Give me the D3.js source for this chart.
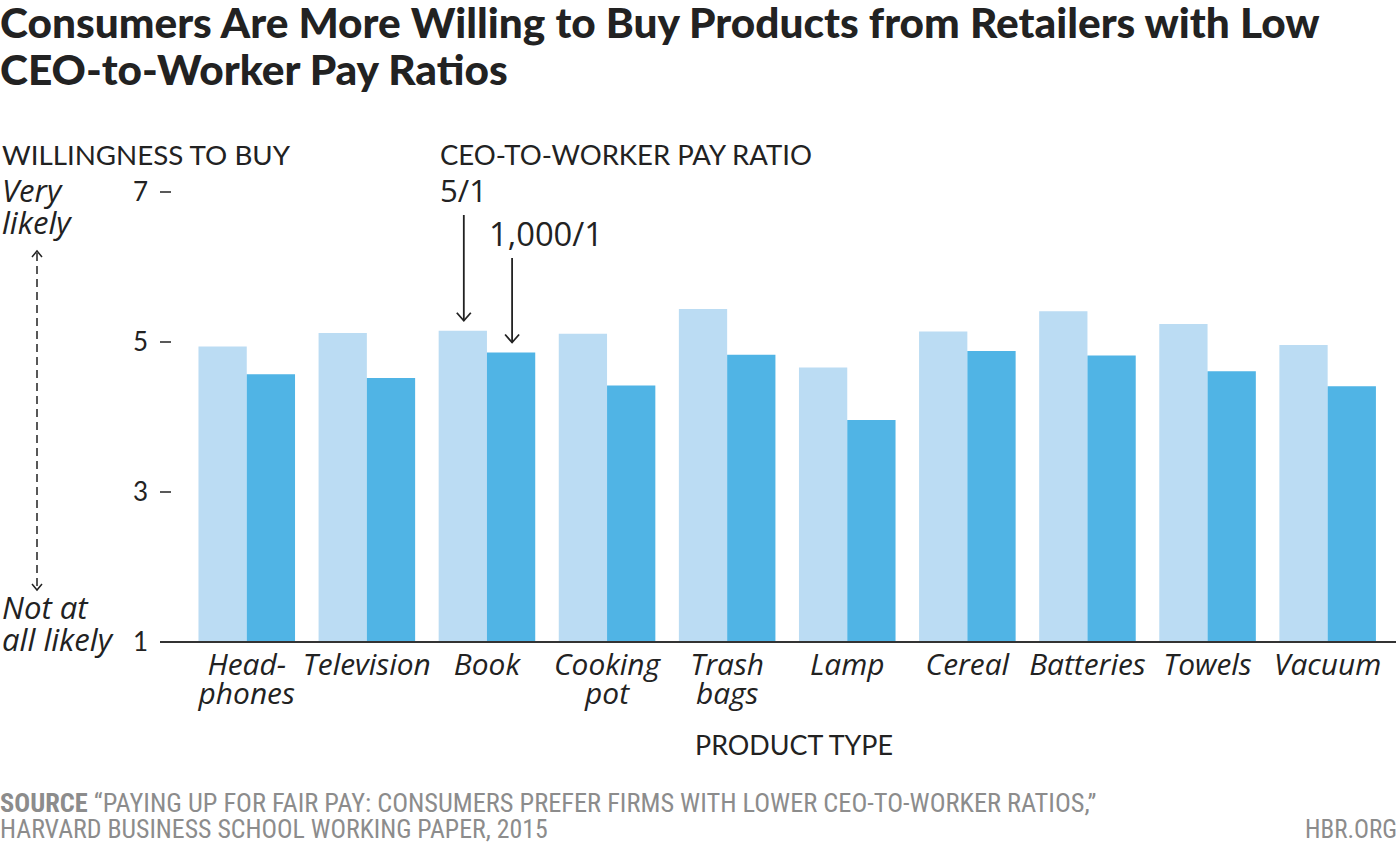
<!DOCTYPE html>
<html>
<head>
<meta charset="utf-8">
<script src="https://cdn.jsdelivr.net/npm/d3@7"></script>
<style>
  html, body { margin: 0; padding: 0; background: #fff; }
  svg { display: block; }
</style>
</head>
<body>
<svg id="chart" width="1400" height="846"></svg>
<script>
// ---- data ----
const categories = ["Head-\nphones", "Television", "Book", "Cooking\npot", "Trash\nbags", "Lamp", "Cereal", "Batteries", "Towels", "Vacuum"];
const seriesKeys = ["5/1", "1,000/1"];
const ratio5 = [4.94, 5.12, 5.15, 5.11, 5.44, 4.66, 5.14, 5.41, 5.24, 4.96];
const ratio1000 = [4.57, 4.52, 4.86, 4.42, 4.83, 3.96, 4.88, 4.82, 4.61, 4.41];
const yTicks = [1, 3, 5, 7];
const titleLines = ["Consumers Are More Willing to Buy Products from Retailers with Low", "CEO-to-Worker Pay Ratios"];

const table = categories.map((c, i) => ({ cat: c, values: [ratio5[i], ratio1000[i]] }));

const svg = d3.select("#chart");
const INK = "#222222";
const GREY = "#8c8c8c";
const colors = ["#bbdcf3", "#50b4e5"];
const FONT = "Lato, 'Open Sans', sans-serif";
const IFONT = "'Open Sans', Lato, sans-serif";

function fit(sel, target) {
  const n = sel.node();
  const fs = parseFloat(sel.attr("font-size"));
  const w = n.getComputedTextLength();
  if (w > 0) sel.attr("font-size", (fs * target / w).toFixed(2));
  return parseFloat(sel.attr("font-size"));
}

// ---- scales ----
const y = d3.scaleLinear().domain([1, 7]).range([642, 192]);
const x0 = d3.scaleBand().domain(categories).range([186.7, 1387.7]).paddingInner(0.196).paddingOuter(0.098);
const x1 = d3.scaleBand().domain(seriesKeys).range([0, x0.bandwidth()]).padding(0);

// ---- title ----
const t1 = svg.append("text").attr("x", 0).attr("y", 38).attr("font-family", FONT)
  .attr("font-weight", 900).attr("font-size", 34).attr("fill", INK).text(titleLines[0]);
const tfs = fit(t1, 1320);
svg.append("text").attr("x", 0).attr("y", 85).attr("font-family", FONT)
  .attr("font-weight", 900).attr("font-size", tfs).attr("fill", INK).text(titleLines[1]);

// ---- headers ----
const h1 = svg.append("text").attr("x", 2).attr("y", 165).attr("font-family", FONT)
  .attr("font-size", 24).attr("fill", INK).text("WILLINGNESS TO BUY");
fit(h1, 288);
const h2 = svg.append("text").attr("x", 440).attr("y", 165).attr("font-family", FONT)
  .attr("font-size", 24).attr("fill", INK).text("CEO-TO-WORKER PAY RATIO");
fit(h2, 372);

// ---- left scale annotations ----
const italic = (txt, xx, yy) => svg.append("text").attr("x", xx).attr("y", yy)
  .attr("font-family", IFONT).attr("font-style", "italic").attr("font-size", 24).attr("fill", INK).text(txt);
const ls = italic("all likely", 2, 651);
const lfs = fit(ls, 110);
italic("Very", 2, 202).attr("font-size", lfs);
italic("likely", 2, 234).attr("font-size", lfs);
italic("Not at", 2, 619).attr("font-size", lfs);

const ax = 37, aTop = 251, aBot = 590;
svg.append("line").attr("x1", ax).attr("x2", ax).attr("y1", aTop + 2).attr("y2", aBot - 2)
  .attr("stroke", INK).attr("stroke-width", 1.5).attr("stroke-dasharray", "8,5");
svg.append("path").attr("d", `M${ax - 5},${aTop + 6} L${ax},${aTop} L${ax + 5},${aTop + 6}`)
  .attr("fill", "none").attr("stroke", INK).attr("stroke-width", 1.5);
svg.append("path").attr("d", `M${ax - 5},${aBot - 6} L${ax},${aBot} L${ax + 5},${aBot - 6}`)
  .attr("fill", "none").attr("stroke", INK).attr("stroke-width", 1.5);

// ---- bars ----
const groups = svg.append("g").selectAll("g").data(table).join("g")
  .attr("transform", d => `translate(${x0(d.cat)},0)`);
groups.selectAll("rect").data(d => d.values.map((v, i) => ({ key: seriesKeys[i], v, i }))).join("rect")
  .attr("x", d => x1(d.key))
  .attr("y", d => y(d.v))
  .attr("width", x1.bandwidth())
  .attr("height", d => y(1) - y(d.v))
  .attr("fill", d => colors[d.i]);

// ---- y axis ----
const yAxis = svg.append("g");
yAxis.selectAll("text.tick").data(yTicks).join("text")
  .attr("class", "tick")
  .attr("x", 148).attr("y", d => y(d)).attr("dy", "0.35em")
  .attr("text-anchor", "end").attr("font-family", FONT).attr("font-size", 26).attr("fill", INK)
  .text(d => d);
yAxis.selectAll("line.dash").data(yTicks.filter(d => d !== 1)).join("line")
  .attr("class", "dash")
  .attr("x1", 160).attr("x2", 171).attr("y1", d => y(d)).attr("y2", d => y(d))
  .attr("stroke", INK).attr("stroke-width", 1.5);

// baseline
svg.append("line").attr("x1", 160).attr("x2", 1396).attr("y1", y(1)).attr("y2", y(1))
  .attr("stroke", "#333").attr("stroke-width", 2);

// ---- x labels ----
const probe = svg.append("text").attr("font-family", IFONT).attr("font-style", "italic")
  .attr("font-size", 26).text("Television");
const cfs = fit(probe, 128);
probe.remove();
const xl = svg.append("g").selectAll("text").data(categories).join("text")
  .attr("x", d => x0(d) + x0.bandwidth() / 2)
  .attr("y", 675)
  .attr("text-anchor", "middle").attr("font-family", IFONT).attr("font-style", "italic")
  .attr("font-size", cfs).attr("fill", INK);
xl.each(function(d) {
  const lines = d.split("\n");
  d3.select(this).selectAll("tspan").data(lines).join("tspan")
    .attr("x", x0(d) + x0.bandwidth() / 2)
    .attr("dy", (l, i) => i === 0 ? 0 : 29)
    .text(l => l);
});

const pt = svg.append("text").attr("x", 794).attr("y", 755).attr("text-anchor", "middle")
  .attr("font-family", FONT).attr("font-size", 24).attr("fill", INK).text("PRODUCT TYPE");
fit(pt, 198);

// ---- arrows to Book bars ----
const bookIdx = 2;
const arrowSpecs = [
  { key: seriesKeys[0], v: ratio5[bookIdx], top: 215, labelX: 440, labelY: 202, w: 47 },
  { key: seriesKeys[1], v: ratio1000[bookIdx], top: 258, labelX: 489, labelY: 246, w: 114 }
];
arrowSpecs.forEach(s => {
  const cx = x0(categories[bookIdx]) + x1(s.key) + x1.bandwidth() / 2 + 1;
  const tip = y(s.v) - 10;
  const lab = svg.append("text").attr("x", s.labelX).attr("y", s.labelY).attr("font-family", IFONT)
    .attr("font-size", 25).attr("fill", INK).text(s.key);
  fit(lab, s.w);
  svg.append("line").attr("x1", cx).attr("x2", cx).attr("y1", s.top).attr("y2", tip)
    .attr("stroke", INK).attr("stroke-width", 1.8);
  svg.append("path").attr("d", `M${cx - 7},${tip - 8} L${cx},${tip} L${cx + 7},${tip - 8}`)
    .attr("fill", "none").attr("stroke", INK).attr("stroke-width", 1.8);
});

// ---- footer ----
const FOOT = "'Liberation Sans Narrow', 'Roboto Condensed', Roboto, sans-serif";
const f1 = svg.append("text").attr("x", 0).attr("y", 812).attr("font-family", FOOT)
  .attr("font-size", 20).attr("fill", GREY);
f1.append("tspan").attr("font-weight", 700).text("SOURCE");
f1.append("tspan").text(" \u201CPAYING UP FOR FAIR PAY: CONSUMERS PREFER FIRMS WITH LOWER CEO-TO-WORKER RATIOS,\u201D");
fit(f1, 1097);
const f2 = svg.append("text").attr("x", 0).attr("y", 838).attr("font-family", FOOT)
  .attr("font-size", 20).attr("fill", GREY).text("HARVARD BUSINESS SCHOOL WORKING PAPER, 2015");
fit(f2, 548);
const f3 = svg.append("text").attr("x", 1397).attr("y", 838).attr("text-anchor", "end").attr("font-family", FOOT)
  .attr("font-size", 20).attr("fill", GREY).text("HBR.ORG");
fit(f3, 92);
</script>
</body>
</html>
